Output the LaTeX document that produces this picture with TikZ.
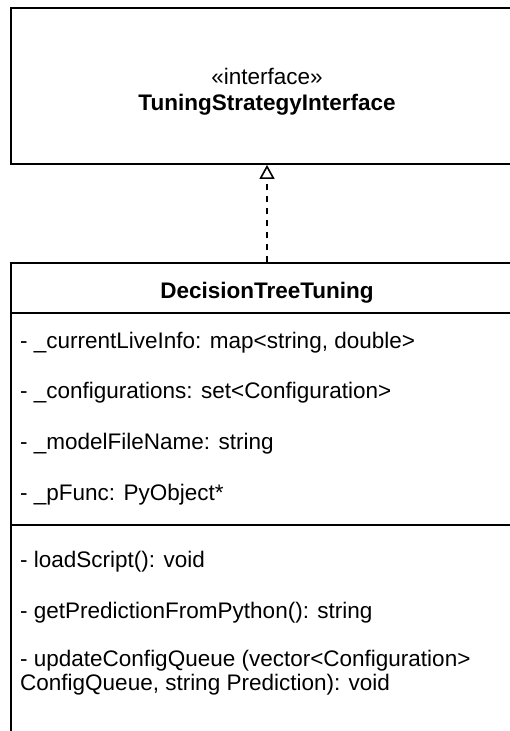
\documentclass[tikz,border=0pt]{standalone}
\usepackage{fontspec}
\setmainfont{Liberation Sans}
\usetikzlibrary{arrows.meta}
\begin{document}
\begin{tikzpicture}[x=1pt,y=-1pt,
  boxline/.style={draw=black, line width=1.8pt},
  umltext/.style={font=\fontsize{22.5}{25}\selectfont, inner sep=0pt, anchor=base west},
  umlcenter/.style={font=\fontsize{22.5}{25}\selectfont, inner sep=0pt, anchor=base},
  realize/.style={line width=1.6pt, dash pattern=on 6pt off 6pt, -{Triangle[open, length=14pt, width=15pt, line width=1.6pt]}}
]
\useasboundingbox (0,0) rectangle (510,731);
\clip (0,0) rectangle (510,731);
% interface box
\node[boxline, rectangle, minimum width=512pt, minimum height=156pt, inner sep=0pt] (iface) at (267,86) {};
\node[umlcenter] (stereo) at (267,84) {«interface»};
\node[umlcenter, font=\fontsize{22.5}{25}\selectfont\bfseries] (ifname) at (267,110) {TuningStrategyInterface};
% class box compartments
\node[boxline, rectangle, minimum width=512pt, minimum height=50pt, inner sep=0pt] (cls) at (267,288) {};
\node[boxline, rectangle, minimum width=512pt, minimum height=212pt, inner sep=0pt] (attrs) at (267,419) {};
\node[boxline, rectangle, minimum width=512pt, minimum height=260pt, inner sep=0pt] (meths) at (267,655) {};
\node[umlcenter, font=\fontsize{22.5}{25}\selectfont\bfseries] (clsname) at (267,298) {DecisionTreeTuning};
% attributes
\node[umltext] (a1) at (20,348) {- \_currentLiveInfo: map<string, double>};
\node[umltext] (a2) at (20,398) {- \_configurations: set<Configuration>};
\node[umltext] (a3) at (20,449) {- \_modelFileName: string};
\node[umltext] (a4) at (20,500) {- \_pFunc: PyObject*};
% methods
\node[umltext] (m1) at (20,567) {- loadScript(): void};
\node[umltext] (m2) at (20,618) {- getPredictionFromPython(): string};
\node[umltext] (m3a) at (20,666) {- updateConfigQueue (vector<Configuration>};
\node[umltext] (m3b) at (20,690) {ConfigQueue, string Prediction): void};
% realization
\draw[realize] (cls.north) -- (iface.south);
\end{tikzpicture}
\end{document}
